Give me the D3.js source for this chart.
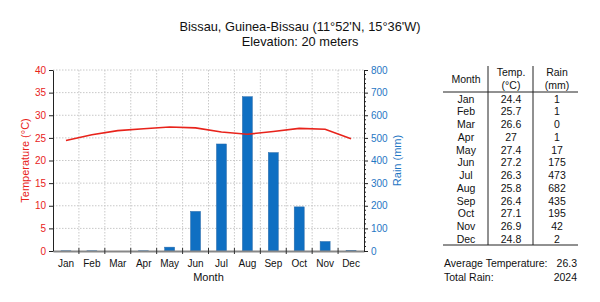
<!DOCTYPE html>
<html>
<head>
<meta charset="utf-8">
<script src="https://cdn.jsdelivr.net/npm/d3@7"></script>
<style>
  body { margin: 0; background: #fff; }
  svg { font-family: "Liberation Sans", Arial, sans-serif; }
</style>
</head>
<body>
<svg id="chart" width="600" height="302"></svg>
<script>
const months = ['Jan','Feb','Mar','Apr','May','Jun','Jul','Aug','Sep','Oct','Nov','Dec'];
const temps = [24.4, 25.7, 26.6, 27, 27.4, 27.2, 26.3, 25.8, 26.4, 27.1, 26.9, 24.8];
const rain = [1, 1, 0, 1, 17, 175, 473, 682, 435, 195, 42, 2];
const tempTicks = [0, 5, 10, 15, 20, 25, 30, 35, 40];
const rainTicks = [0, 100, 200, 300, 400, 500, 600, 700, 800];
const titleLines = ["Bissau, Guinea-Bissau (11°52'N, 15°36'W)", 'Elevation: 20 meters'];
const avgTemp = '26.3';
const totalRain = '2024';

const red = '#e8231b';
const blue = '#1f77c4';

const svg = d3.select('#chart');
const m = {left: 53, right: 364, top: 70, bottom: 251};

const x = d3.scaleBand().domain(months).range([m.left, m.right]);
const yT = d3.scaleLinear().domain([0, 40]).range([m.bottom, m.top]);
const yR = d3.scaleLinear().domain([0, 800]).range([m.bottom, m.top]);

// title
svg.append('g').selectAll('text')
  .data(titleLines)
  .join('text')
  .attr('x', 300)
  .attr('y', (d, i) => 31 + i * 14.5)
  .attr('text-anchor', 'middle')
  .attr('font-size', 12.8)
  .attr('fill', '#111')
  .text(d => d);

// grid
const grid = svg.append('g').attr('stroke', '#c8c8c8').attr('stroke-dasharray', '1.5,1.5');
grid.selectAll('.h').data(tempTicks.slice(1))
  .join('line')
  .attr('x1', m.left).attr('x2', m.right)
  .attr('y1', d => yT(d)).attr('y2', d => yT(d));
grid.selectAll('.v').data(months.slice(1))
  .join('line')
  .attr('x1', d => x(d)).attr('x2', d => x(d))
  .attr('y1', m.top).attr('y2', m.bottom);

// bars
svg.append('g').selectAll('rect')
  .data(rain)
  .join('rect')
  .attr('x', (d, i) => x(months[i]) + x.bandwidth() / 2 - 5)
  .attr('y', d => yR(d))
  .attr('width', 10)
  .attr('height', d => m.bottom - yR(d))
  .attr('fill', '#0f6fc2')
  .attr('stroke', '#2a6aa8')
  .attr('stroke-width', 0.5);

// temperature line
svg.append('path')
  .datum(temps)
  .attr('fill', 'none')
  .attr('stroke', red)
  .attr('stroke-width', 1.6)
  .attr('d', d3.line().x((d, i) => x(months[i]) + x.bandwidth() / 2).y(d => yT(d)));

// x axis
const xAxis = svg.append('g')
  .attr('transform', `translate(0,${m.bottom})`)
  .call(d3.axisBottom(x).tickSize(0).tickPadding(9));
xAxis.select('.domain').attr('stroke', '#888').attr('stroke-width', 2);
xAxis.selectAll('text').attr('font-size', 10).attr('fill', '#111').attr('font-family', null);
svg.append('g').selectAll('line')
  .data(months.slice(1))
  .join('line')
  .attr('x1', d => x(d)).attr('x2', d => x(d))
  .attr('y1', m.bottom - 3).attr('y2', m.bottom + 3)
  .attr('stroke', '#333');

// left axis
const left = svg.append('g')
  .attr('transform', `translate(${m.left},0)`)
  .call(d3.axisLeft(yT).tickValues(tempTicks).tickSize(4).tickSizeOuter(0).tickPadding(3));
left.select('.domain').attr('stroke', '#222');
left.selectAll('.tick line').attr('stroke', '#222');
left.selectAll('text').attr('font-size', 10).attr('fill', red).attr('font-family', null);

// right axis
const right = svg.append('g')
  .attr('transform', `translate(${m.right},0)`)
  .call(d3.axisRight(yR).tickValues(rainTicks).tickSize(4).tickSizeOuter(0).tickPadding(3));
right.select('.domain').attr('stroke', '#222');
right.selectAll('.tick line').attr('stroke', '#222');
right.selectAll('text').attr('font-size', 10).attr('fill', blue).attr('font-family', null);
right.append('g').selectAll('line')
  .data(d3.range(0, 801, 20).filter(v => v % 100 !== 0))
  .join('line')
  .attr('x1', 0).attr('x2', 2)
  .attr('y1', d => yR(d)).attr('y2', d => yR(d))
  .attr('stroke', '#222');

// axis titles
svg.append('text')
  .attr('transform', `translate(29,${(m.top + m.bottom) / 2}) rotate(-90)`)
  .attr('text-anchor', 'middle')
  .attr('font-size', 11)
  .attr('fill', red)
  .text('Temperature (°C)');
svg.append('text')
  .attr('transform', `translate(401,${(m.top + m.bottom) / 2}) rotate(-90)`)
  .attr('text-anchor', 'middle')
  .attr('font-size', 11)
  .attr('fill', blue)
  .text('Rain (mm)');
svg.append('text')
  .attr('x', (m.left + m.right) / 2)
  .attr('y', 281)
  .attr('text-anchor', 'middle')
  .attr('font-size', 11)
  .attr('fill', '#111')
  .text('Month');

// table
const tbl = svg.append('g').attr('font-size', 10.5).attr('fill', '#111');
const cols = [466, 511, 557];
const rowY = d3.scaleLinear().domain([0, 11]).range([99, 239]);

tbl.append('text').attr('x', cols[0]).attr('y', 83).attr('text-anchor', 'middle').text('Month');
tbl.append('text').attr('x', cols[1]).attr('y', 76).attr('text-anchor', 'middle').text('Temp.');
tbl.append('text').attr('x', cols[1]).attr('y', 89).attr('text-anchor', 'middle').text('(°C)');
tbl.append('text').attr('x', cols[2]).attr('y', 76).attr('text-anchor', 'middle').text('Rain');
tbl.append('text').attr('x', cols[2]).attr('y', 89).attr('text-anchor', 'middle').text('(mm)');

[488, 533].forEach(cx => {
  tbl.append('line').attr('x1', cx).attr('x2', cx).attr('y1', 66).attr('y2', 245).attr('stroke', '#222');
});
[92, 245].forEach(cy => {
  tbl.append('line').attr('x1', 443).attr('x2', 578).attr('y1', cy).attr('y2', cy).attr('stroke', '#222');
});

const rows = tbl.selectAll('.row')
  .data(months)
  .join('g')
  .attr('transform', (d, i) => `translate(0,${rowY(i) + 3.7})`);
rows.append('text').attr('x', cols[0]).attr('text-anchor', 'middle').text(d => d);
rows.append('text').attr('x', cols[1]).attr('text-anchor', 'middle').text((d, i) => temps[i]);
rows.append('text').attr('x', cols[2]).attr('text-anchor', 'middle').text((d, i) => rain[i]);

tbl.append('text').attr('x', 444).attr('y', 266.5).text('Average Temperature:');
tbl.append('text').attr('x', 577).attr('y', 266.5).attr('text-anchor', 'end').text(avgTemp);
tbl.append('text').attr('x', 444).attr('y', 281).text('Total Rain:');
tbl.append('text').attr('x', 577).attr('y', 281).attr('text-anchor', 'end').text(totalRain);
</script>
</body>
</html>
